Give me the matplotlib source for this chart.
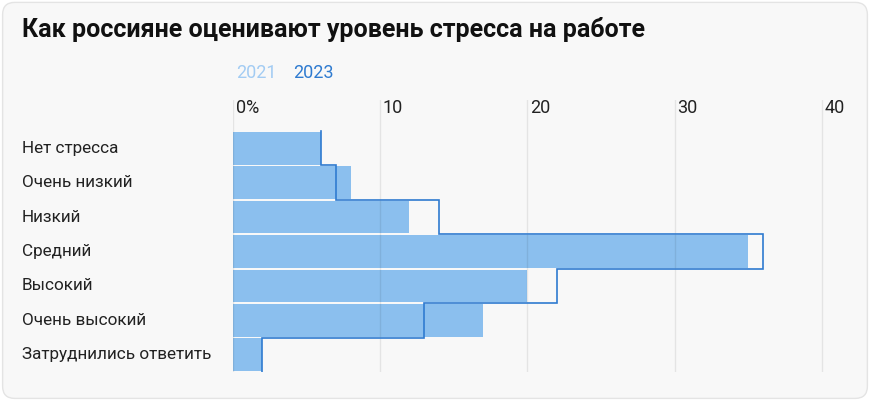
import numpy as np
import matplotlib.pyplot as plt
from matplotlib.patches import FancyBboxPatch

plt.rcParams['font.family'] = ['Roboto', 'DejaVu Sans']

categories = ['Нет стресса', 'Очень низкий', 'Низкий', 'Средний', 'Высокий',
              'Очень высокий', 'Затруднились ответить']
vals_2021 = [6, 8, 12, 35, 20, 17, 2]
vals_2023 = [6, 7, 14, 36, 22, 13, 2]
ticks = [0, 10, 20, 30, 40]
tick_labels = ['0%', '10', '20', '30', '40']

c21 = '#8bbfee'
c23 = '#2f7bd0'

fig = plt.figure(figsize=(8.7, 4.0), dpi=100)
fig.patch.set_facecolor('white')
panel = FancyBboxPatch((0.003, 0.004), 0.994, 0.99, boxstyle='round,pad=0,rounding_size=0.014',
                       transform=fig.transFigure, facecolor='#f8f8f8', edgecolor='#e4e4e4',
                       linewidth=1.0, mutation_aspect=870 / 400, zorder=-5)
fig.patches.append(panel)

fig.text(22 / 870, 1 - 30 / 400, 'Как россияне оценивают уровень стресса на работе',
         fontsize=18, fontweight='bold', color='#111111', va='center', ha='left')
fig.text(236 / 870, 1 - 73 / 400, '2021', fontsize=13, color='#a3ccf3', va='center', ha='left')
fig.text(293 / 870, 1 - 73 / 400, '2023', fontsize=13, color=c23, va='center', ha='left')

ax = fig.add_axes([232.7 / 870, 0.07, 41 * 14.73 / 870, 0.68])
ax.set_facecolor('none')
ax.set_xlim(0, 41)
ax.set_ylim(6.5, -1.4)

y = np.arange(len(categories))
ax.barh(y, vals_2021, height=0.95, color=c21, zorder=2)

edges = np.arange(len(categories) + 1) - 0.5
xs = np.repeat(vals_2023, 2)
ys = np.column_stack([edges[:-1], edges[1:]]).ravel()
ax.plot(xs, ys, color=c23, linewidth=1.2, zorder=4, solid_joinstyle='miter')

for t, lab in zip(ticks, tick_labels):
    ax.axvline(t, color='#000000', alpha=0.08, linewidth=1.0, zorder=3)
    ax.text(t + 0.2, -1.17, lab, fontsize=13, color='#222222', va='center', ha='left')

for yi, cat in zip(y, categories):
    ax.text(-(232.7 - 22) / 14.73, yi, cat, fontsize=12.3, color='#222222',
            va='center', ha='left', clip_on=False)

ax.set_xticks([])
ax.set_yticks([])
for s in ax.spines.values():
    s.set_visible(False)

fig.savefig('out.png', dpi=100)
